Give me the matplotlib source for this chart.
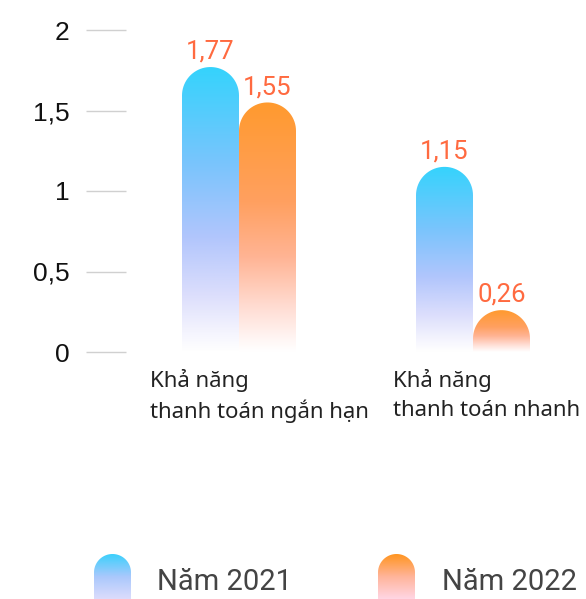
import matplotlib.pyplot as plt
import numpy as np
from matplotlib.colors import LinearSegmentedColormap
from matplotlib.path import Path
from matplotlib.patches import PathPatch

plt.rcParams["font.family"] = ["Roboto", "DejaVu Sans"]

categories = ["Khả năng\nthanh toán ngắn hạn", "Khả năng\nthanh toán nhanh"]
years = ["Năm 2021", "Năm 2022"]
values_2021 = [1.77, 1.15]
values_2022 = [1.55, 0.26]
y_ticks = [0, 0.5, 1, 1.5, 2]
y_tick_labels = ["0", "0,5", "1", "1,5", "2"]

BLUE = LinearSegmentedColormap.from_list(
    "blue", [(0, "#35d3fc"), (0.35, "#7cc4fd"), (0.6, "#b2c6fc"),
             (0.8, "#dcdefc"), (0.93, "#f4f4fe"), (1, "#ffffff")])
ORANGE = LinearSegmentedColormap.from_list(
    "orange", [(0, "#ff9a2e"), (0.4, "#ffa060"), (0.62, "#ffb494"),
               (0.82, "#ffdcd2"), (0.95, "#fff6f4"), (1, "#ffffff")])
LEG_BLUE = LinearSegmentedColormap.from_list("lb", ["#3cd0fc", "#a9c8fc", "#dcdcfc"])
LEG_ORANGE = LinearSegmentedColormap.from_list("lo", ["#ff9520", "#ffb49a", "#ffd6e4"])

W, H = 586, 599
PX_X = 234.0   # pixels per category unit
PX_Y = 161.0   # pixels per y unit
X0_PX, Y0_PX = 239.0, 352.0
BAR_W = 57 / PX_X

fig = plt.figure(figsize=(W / 100, H / 100), dpi=100)
left = 86
ax = fig.add_axes([left / W, 0, 1 - left / W, 1])


def draw_bar(ax, cx, val, cmap, base=0.0):
    rx = BAR_W / 2
    ry = 28.5 / PX_Y
    x0, x1 = cx - rx, cx + rx
    t = np.linspace(np.pi, 0, 40)
    xs = np.concatenate([[x0], cx + rx * np.cos(t), [x1, x0]])
    ys = np.concatenate([[base], val - ry + ry * np.sin(t), [base, base]])
    path = Path(np.column_stack([xs, ys]))
    patch = PathPatch(path, facecolor="none", edgecolor="none")
    ax.add_patch(patch)
    grad = np.linspace(0, 1, 256).reshape(-1, 1)
    im = ax.imshow(grad, cmap=cmap, extent=[x0, x1, base, val],
                   aspect="auto", origin="upper", interpolation="bilinear")
    im.set_clip_path(patch)


for i in range(len(categories)):
    draw_bar(ax, i - BAR_W / 2, values_2021[i], BLUE)
    draw_bar(ax, i + BAR_W / 2, values_2022[i], ORANGE)
    for cx, v in [(i - BAR_W / 2, values_2021[i]), (i + BAR_W / 2, values_2022[i])]:
        ax.text(cx, v + 0.095, f"{v:.2f}".replace(".", ","), ha="center", va="center",
                fontsize=18.5, color="#ff6a40")

label_x = [-0.38, 0.658]
for i, cat in enumerate(categories):
    l1, l2 = cat.split("\n")
    ax.text(label_x[i], (Y0_PX - 381) / PX_Y, l1, ha="left", va="center",
            fontsize=16, color="#222222", family=["Noto Sans", "DejaVu Sans"])
    ax.text(label_x[i], (Y0_PX - 411) / PX_Y, l2, ha="left", va="center",
            fontsize=16, color="#222222", family=["Noto Sans", "DejaVu Sans"])

ax.set_xlim((left - X0_PX) / PX_X, (W - X0_PX) / PX_X)
ax.set_ylim((Y0_PX - H) / PX_Y, Y0_PX / PX_Y)
ax.set_yticks(y_ticks)
ax.set_yticklabels(y_tick_labels, fontsize=19, color="#111111",
                   family=["Liberation Sans", "DejaVu Sans"])
ax.set_xticks([])
ax.tick_params(axis="y", direction="in", length=29, width=1, color="#d0d0d0", pad=12)
for s in ax.spines.values():
    s.set_visible(False)
ax.patch.set_alpha(0)

# legend
lax = fig.add_axes([0, 0, 1, 1])
lax.set_xlim(0, W)
lax.set_ylim(H, 0)
lax.axis("off")
lax.patch.set_alpha(0)
for (sx, cmap, tx, name) in [(94, LEG_BLUE, 157, years[0]), (378, LEG_ORANGE, 442, years[1])]:
    sw = 37
    r = sw / 2
    top = 554
    t = np.linspace(np.pi, 0, 40)
    xs = np.concatenate([[sx], sx + r + r * np.cos(t), [sx + sw, sx]])
    ys = np.concatenate([[H], top + r - r * np.sin(t), [H, H]])
    patch = PathPatch(Path(np.column_stack([xs, ys])), facecolor="none", edgecolor="none")
    lax.add_patch(patch)
    im = lax.imshow(np.linspace(0, 1, 128).reshape(-1, 1), cmap=cmap,
                    extent=[sx, sx + sw, H, top], aspect="auto", origin="upper")
    im.set_clip_path(patch)
    lax.text(tx, 582, name, ha="left", va="center", fontsize=21, color="#444444")
lax.set_xlim(0, W)
lax.set_ylim(H, 0)

fig.savefig("out.png", dpi=100)
